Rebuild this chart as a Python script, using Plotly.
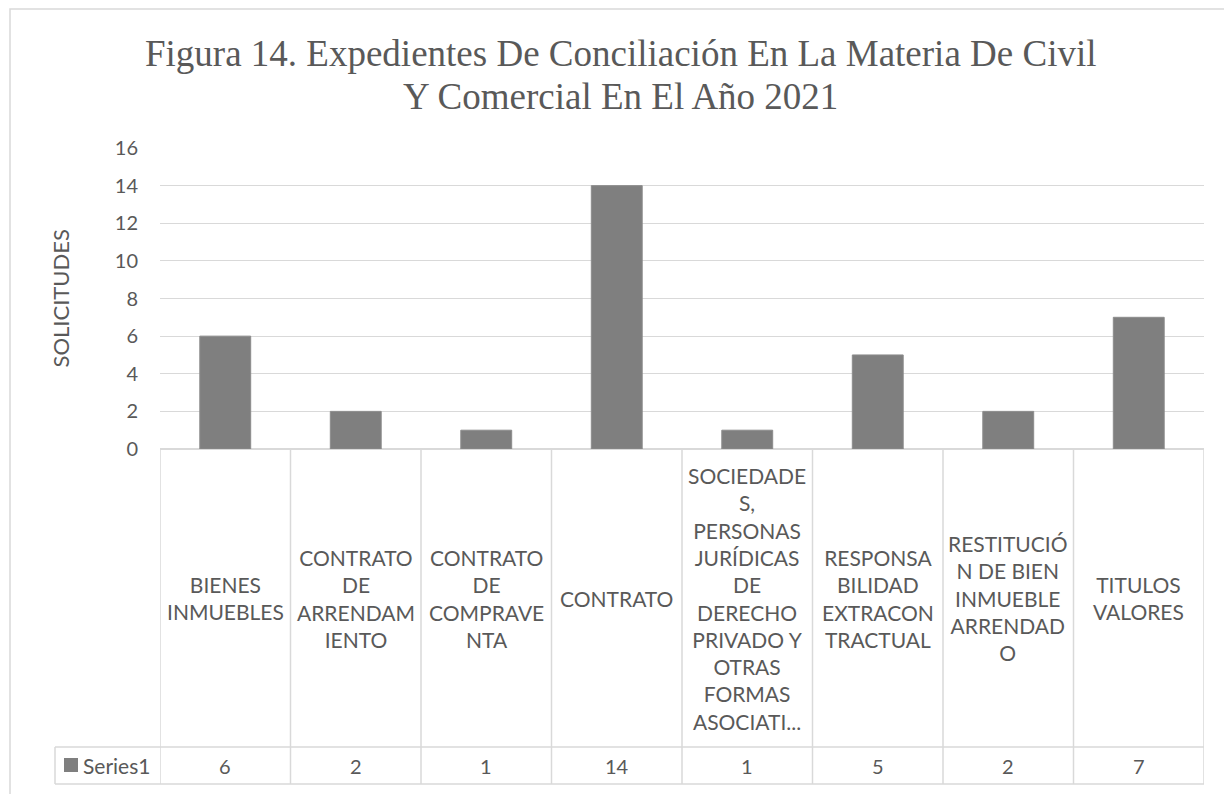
import plotly.graph_objects as go

# data
categories = [
    "BIENES INMUEBLES",
    "CONTRATO DE ARRENDAMIENTO",
    "CONTRATO DE COMPRAVENTA",
    "CONTRATO",
    "SOCIEDADES, PERSONAS JURÍDICAS DE DERECHO PRIVADO Y OTRAS FORMAS ASOCIATIVAS",
    "RESPONSABILIDAD EXTRACONTRACTUAL",
    "RESTITUCIÓN DE BIEN INMUEBLE ARRENDADO",
    "TITULOS VALORES",
]
tick_labels = [
    "BIENES<br>INMUEBLES",
    "CONTRATO<br>DE<br>ARRENDAM<br>IENTO",
    "CONTRATO<br>DE<br>COMPRAVE<br>NTA",
    "CONTRATO",
    "SOCIEDADE<br>S,<br>PERSONAS<br>JURÍDICAS<br>DE<br>DERECHO<br>PRIVADO Y<br>OTRAS<br>FORMAS<br>ASOCIATI...",
    "RESPONSA<br>BILIDAD<br>EXTRACON<br>TRACTUAL",
    "RESTITUCIÓ<br>N DE BIEN<br>INMUEBLE<br>ARRENDAD<br>O",
    "TITULOS<br>VALORES",
]
title_lines = [
    "Figura 14. Expedientes De Conciliación En La Materia De Civil",
    "Y Comercial En El Año 2021",
]
series_name = "Series1"
values = [6, 2, 1, 14, 1, 5, 2, 7]

TXT = "#595959"
GRID = "#d9d9d9"
BAR = "#7f7f7f"
SANS = "Lato, Open Sans, sans-serif"
SERIF = "Liberation Serif, Times New Roman, serif"

# page has an 8px body margin, so the figure is drawn 8px smaller
OFF = 8
W, H = 1232 - OFF, 794 - OFF
PL, PR, PT, PB = 160, 1204, 148, 449  # plot area in screen pixels
plot_w = PR - PL
plot_h = PB - PT


def px_x(px):
    return (px - PL) / plot_w


def px_y(py):
    return (PB - py) / plot_h


fig = go.Figure(go.Bar(
    x=list(range(len(categories))), y=values, name=series_name,
    marker=dict(color=BAR, line=dict(color="#8c8c8c", width=1)),
    hovertext=categories,
))

row_top = px_y(747)
row_bot = px_y(784)
n = len(categories)

shapes = []
# outer chart border
shapes.append(dict(type="rect", xref="paper", yref="paper",
                   x0=px_x(10), x1=px_x(1245), y0=px_y(810), y1=px_y(9),
                   line=dict(color=GRID, width=1.5), layer="below"))
# data table grid
for k in range(n + 1):
    shapes.append(dict(type="line", xref="x", yref="paper",
                       x0=k - 0.5, x1=k - 0.5, y0=0, y1=row_bot,
                       line=dict(color=GRID, width=1.5)))
for yy in (row_top, row_bot):
    shapes.append(dict(type="line", xref="paper", yref="paper",
                       x0=px_x(55), x1=1, y0=yy, y1=yy,
                       line=dict(color=GRID, width=1.5)))
shapes.append(dict(type="line", xref="paper", yref="paper",
                   x0=px_x(55), x1=px_x(55), y0=row_top, y1=row_bot,
                   line=dict(color=GRID, width=1.5)))
# legend key
shapes.append(dict(type="rect", xref="paper", yref="paper",
                   x0=px_x(64), x1=px_x(78), y0=px_y(772), y1=px_y(758),
                   fillcolor=BAR, line=dict(width=0)))

annotations = []
for i, lab in enumerate(tick_labels):
    annotations.append(dict(x=i, xref="x", y=(0 + row_top) / 2, yref="paper",
                            text=lab, showarrow=False, yanchor="middle",
                            font=dict(family=SANS, size=21, color=TXT)))
for i, v in enumerate(values):
    annotations.append(dict(x=i, xref="x", y=(row_top + row_bot) / 2, yref="paper",
                            text=str(v), showarrow=False, yanchor="middle",
                            font=dict(family=SANS, size=20, color=TXT)))
annotations.append(dict(x=px_x(81), xref="paper", y=(row_top + row_bot) / 2, yref="paper",
                        text=series_name, showarrow=False, xanchor="left", yanchor="middle",
                        font=dict(family=SANS, size=21, color=TXT)))
annotations.append(dict(x=px_x(60), xref="paper", y=0.5, yref="paper",
                        text="SOLICITUDES", textangle=-90, showarrow=False,
                        xanchor="center", yanchor="middle",
                        font=dict(family=SANS, size=22, color=TXT)))
for line, cy in zip(title_lines, (53, 96)):
    annotations.append(dict(x=px_x(620), xref="paper", y=px_y(cy), yref="paper",
                            text=line, showarrow=False, xanchor="center", yanchor="middle",
                            font=dict(family=SERIF, size=37, color=TXT)))

fig.update_layout(
    width=W, height=H,
    margin=dict(l=PL - OFF, r=W - (PR - OFF), t=PT - OFF, b=H - (PB - OFF)),
    paper_bgcolor="white", plot_bgcolor="white",
    showlegend=False,
    bargap=0.61,
    xaxis=dict(range=[-0.5, n - 0.5], showticklabels=False, showgrid=False,
               zeroline=False, showline=False, fixedrange=True),
    yaxis=dict(range=[0, 16], dtick=2, gridcolor=GRID, gridwidth=1,
               zeroline=True, zerolinecolor=GRID, zerolinewidth=1.5,
               ticks="outside", ticklen=17, tickcolor="rgba(0,0,0,0)",
               tickfont=dict(family=SANS, size=20, color=TXT)),
    shapes=shapes,
    annotations=annotations,
)

fig.write_html("out.html")
